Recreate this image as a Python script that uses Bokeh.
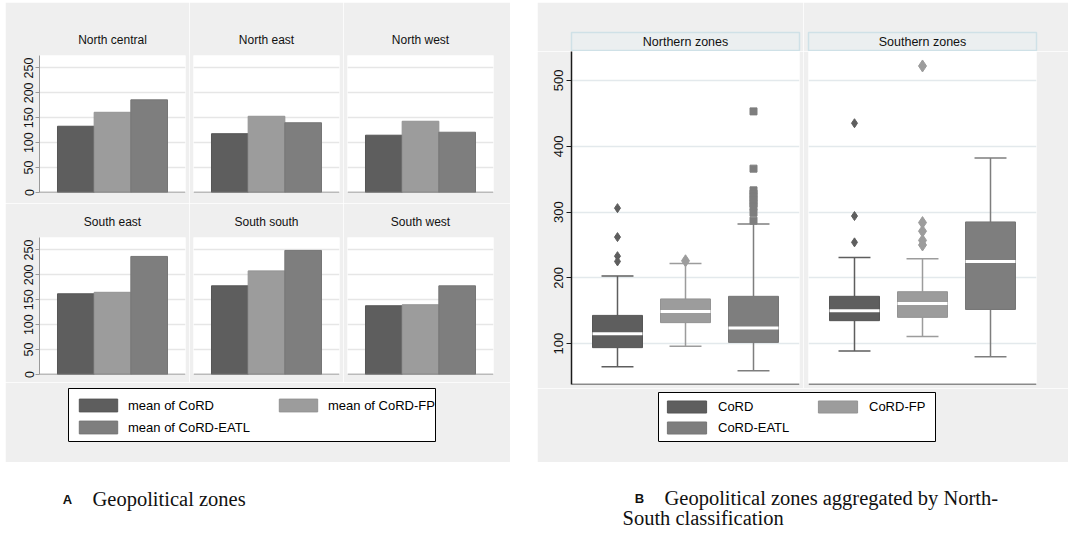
from bokeh.plotting import figure
from bokeh.models import (Range1d, FactorRange, FixedTicker, Legend, LegendItem,
                          ColumnDataSource, Grid, Spacer, Span)
from bokeh.layouts import row, column
from bokeh.embed import file_html
from bokeh.resources import INLINE
from bokeh.core.properties import value

# ---------------- data ----------------
series = ["CoRD", "CoRD-FP", "CoRD-EATL"]
legend_left = ["mean of CoRD", "mean of CoRD-FP", "mean of CoRD-EATL"]

zones = ["North central", "North east", "North west",
         "South east", "South south", "South west"]
mean_cord = [133, 118, 115, 162, 178, 138]
mean_fp = [161, 153, 143, 165, 208, 140]
mean_eatl = [186, 140, 121, 237, 249, 178]
bar_ticks = [0, 50, 100, 150, 200, 250]

groups = ["Northern zones", "Southern zones"]
cord_lo = [65, 89]
cord_q1 = [94, 135]
cord_med = [115, 150]
cord_q3 = [143, 172]
cord_hi = [203, 231]
fp_lo = [96, 111]
fp_q1 = [132, 140]
fp_med = [149, 161]
fp_q3 = [168, 179]
fp_hi = [222, 229]
eatl_lo = [59, 80]
eatl_q1 = [102, 152]
eatl_med = [124, 225]
eatl_q3 = [172, 285]
eatl_hi = [282, 382]
cord_out = [[306, 262, 233, 225], [435, 294, 254]]
fp_out = [[226], [522, 284, 271, 257, 250]]
eatl_out = [[453, 366, 333, 328, 323, 318, 313, 308, 299, 287], []]
box_ticks = [100, 200, 300, 400, 500]

# ---------------- style ----------------
BG = "#efefef"
colors = ["#5e5e5e", "#9c9c9c", "#7e7e7e"]
edges = ["#555555", "#939393", "#767676"]
FONT = "Liberation Sans"


def strip_grids(p):
    p.center = [c for c in p.center if not isinstance(c, Grid)]


def base(w, h, bl, br, bt, bb, xr, yr, yloc=None, title=None):
    kw = dict(width=w, height=h, x_range=xr, y_range=yr,
              output_backend="svg", toolbar_location=None,
              x_axis_location=None, y_axis_location=yloc,
              min_border_left=bl, min_border_right=br,
              min_border_top=bt, min_border_bottom=bb,
              border_fill_color=BG, background_fill_color="white",
              outline_line_color=None)
    if title is not None:
        kw["title"] = title
    p = figure(**kw)
    strip_grids(p)
    return p


# ---------------- left panel: bar facets ----------------
col_specs = [(184, 34, 4), (154, 4, 4), (167, 4, 17)]
row_specs = [(201, 53, 11), (179, 34, 8)]
left_rows = []
for r in range(2):
    figs = []
    for c in range(3):
        i = r * 3 + c
        w, bl, br = col_specs[c]
        h, bt, bb = row_specs[r]
        p = base(w, h, bl, br, bt, bb,
                 FactorRange(factors=series, range_padding=0.327),
                 Range1d(0, 275), yloc="left" if c == 0 else None, title=zones[i])
        p.title.align = "center"
        p.title.text_font = FONT
        p.title.text_font_style = "normal"
        p.title.text_font_size = "12px"
        p.title.text_color = "#111111"
        p.title.standoff = 18
        p.add_layout(Grid(dimension=1, ticker=FixedTicker(ticks=bar_ticks),
                          grid_line_color="#e6e6e6", grid_line_width=1.5))
        src = ColumnDataSource(dict(series=series,
                                    mean=[mean_cord[i], mean_fp[i], mean_eatl[i]],
                                    color=colors, edge=edges))
        p.vbar(x="series", top="mean", width=1.0, source=src,
               fill_color="color", line_color="edge", line_width=1)
        p.add_layout(Span(location=0, dimension="width",
                          line_color="#7a7a7a", line_width=1.5))
        if c == 0:
            ya = p.yaxis[0]
            ya.ticker = FixedTicker(ticks=bar_ticks)
            ya.major_label_orientation = "vertical"
            ya.major_label_text_font = FONT
            ya.major_label_text_font_size = "12.5px"
            ya.major_label_text_color = "#111111"
            ya.major_label_standoff = 2
            ya.axis_line_color = "#9a9a9a"
            ya.major_tick_line_color = "#9a9a9a"
            ya.major_tick_out = 4
            ya.major_tick_in = 0
            ya.minor_tick_line_color = None
        figs.append(p)
    left_rows.append(row(*figs, spacing=0))


def legend_fig(w, h, bl, br, bt, bb, labels, groups_idx, locs, gw, gh, fs, standoff, spacing):
    p = figure(width=w, height=h, x_range=Range1d(0, 1), y_range=Range1d(0, 1),
               x_axis_location=None, y_axis_location=None,
               min_border_left=bl, min_border_right=br,
               min_border_top=bt, min_border_bottom=bb,
               border_fill_color=BG, background_fill_color="white",
               outline_line_color="black", outline_line_width=1,
               output_backend="svg", toolbar_location=None)
    strip_grids(p)
    # legend-only renderers, kept outside the visible range
    rends = [p.vbar(x=[-5], bottom=[-5], top=[-4], width=0.1,
                    fill_color=colors[k], line_color=edges[k])
             for k in range(3)]
    for idx, loc in zip(groups_idx, locs):
        leg = Legend(items=[LegendItem(label=labels[k], renderers=[rends[k]]) for k in idx],
                     location=loc, orientation="vertical",
                     glyph_width=gw, glyph_height=gh, label_height=gh,
                     label_standoff=standoff, spacing=spacing, padding=0, margin=0,
                     border_line_color=None, background_fill_alpha=0,
                     label_text_font=FONT, label_text_font_size=f"{fs}px",
                     label_text_color="black")
        p.add_layout(leg)
    return p


left_leg = legend_fig(505, 80, 63, 75, 6, 21, legend_left,
                      [[0, 2], [1]], [(6, 6), (206, 28)], 48, 16, 13, 6, 6)
left_panel = column(left_rows[0], left_rows[1], left_leg, spacing=0)

# ---------------- right panel: box facets ----------------
hspec = [(266, 34, 4), (265, 5, 32)]
strips = []
boxes = []
for g in range(2):
    w, bl, br = hspec[g]
    s = figure(width=w, height=49, x_range=Range1d(0, 1), y_range=Range1d(0, 1),
               x_axis_location=None, y_axis_location=None,
               min_border_left=bl, min_border_right=br, min_border_top=30,
               min_border_bottom=0, border_fill_color=BG,
               background_fill_color="#ebeff0", outline_line_color="#cfe1e7",
               outline_line_width=1.5, output_backend="svg", toolbar_location=None)
    strip_grids(s)
    s.text(x=[0.5], y=[0.5], text=[groups[g]], text_align="center",
           text_baseline="middle", text_font=value(FONT),
           text_font_size="12.5px", text_color="#111111")
    strips.append(s)

    p = base(w, 337, bl, br, 0, 4,
             FactorRange(factors=series, range_padding=0.1176),
             Range1d(38, 544), yloc="left" if g == 0 else None)
    p.add_layout(Grid(dimension=1, ticker=FixedTicker(ticks=box_ticks),
                      grid_line_color="#e3e9ec", grid_line_width=1.5))
    src = ColumnDataSource(dict(
        series=series,
        lo=[cord_lo[g], fp_lo[g], eatl_lo[g]],
        q1=[cord_q1[g], fp_q1[g], eatl_q1[g]],
        med=[cord_med[g], fp_med[g], eatl_med[g]],
        q3=[cord_q3[g], fp_q3[g], eatl_q3[g]],
        hi=[cord_hi[g], fp_hi[g], eatl_hi[g]],
        color=colors, edge=edges))
    p.segment(x0="series", y0="q3", x1="series", y1="hi", source=src,
              line_color="color", line_width=1.5)
    p.segment(x0="series", y0="lo", x1="series", y1="q1", source=src,
              line_color="color", line_width=1.5)
    p.rect(x="series", y="hi", width=0.47, height=1.5, height_units="screen",
           source=src, fill_color="color", line_color=None)
    p.rect(x="series", y="lo", width=0.47, height=1.5, height_units="screen",
           source=src, fill_color="color", line_color=None)
    p.vbar(x="series", bottom="q1", top="q3", width=0.735, source=src,
           fill_color="color", line_color="edge", line_width=1)
    p.rect(x="series", y="med", width=0.735, height=3, height_units="screen",
           source=src, fill_color="white", line_color=None)
    ox, oy, oc, om, osz = [], [], [], [], []
    for k, outs in enumerate([cord_out[g], fp_out[g], eatl_out[g]]):
        for v in outs:
            ox.append(series[k])
            oy.append(v)
            oc.append(colors[k])
            om.append(["diamond", "diamond", "square"][k])
            osz.append([9, 12, 7][k])
    osrc = ColumnDataSource(dict(x=ox, y=oy, color=oc, marker=om, size=osz))
    p.scatter(x="x", y="y", marker="marker", size="size", source=osrc,
              fill_color="color", line_color="color")
    p.add_layout(Span(location=38, dimension="width",
                      line_color="#1a1a1a", line_width=1.5))
    if g == 0:
        ya = p.yaxis[0]
        ya.ticker = FixedTicker(ticks=box_ticks)
        ya.major_label_orientation = "vertical"
        ya.major_label_text_font = FONT
        ya.major_label_text_font_size = "13px"
        ya.major_label_text_color = "#111111"
        ya.major_label_standoff = 3
        ya.axis_line_color = "#1a1a1a"
        ya.axis_line_width = 1.5
        ya.major_tick_line_color = "#1a1a1a"
        ya.major_tick_out = 5
        ya.major_tick_in = 0
        ya.minor_tick_line_color = None
    boxes.append(p)

right_leg = legend_fig(531, 74, 121, 133, 4, 21, series,
                       [[0, 2], [1]], [(4, 6), (155, 27)], 49, 15, 13, 7, 6)
right_panel = column(row(*strips, spacing=0), row(*boxes, spacing=0), right_leg, spacing=0)

# ---------------- captions ----------------
cap = figure(width=1068, height=69, x_range=Range1d(0, 1068), y_range=Range1d(531, 462),
             x_axis_location=None, y_axis_location=None,
             min_border_left=0, min_border_right=0, min_border_top=0, min_border_bottom=0,
             border_fill_color="white", background_fill_color="white",
             outline_line_color=None, output_backend="svg", toolbar_location=None)
strip_grids(cap)
cap.text(x=[67, 639], y=[499, 498], text=["A", "B"], text_align="center",
         text_baseline="middle", text_font=value(FONT), text_font_style="bold",
         text_font_size="13px", text_color="#111111")
cap.text(x=[92, 664, 622], y=[498, 497, 517],
         text=["Geopolitical zones", "Geopolitical zones aggregated by North-",
               "South classification"],
         text_align="left", text_baseline="middle",
         text_font=value("Liberation Serif"), text_font_size="20.5px",
         text_color="#111111")

top = row(Spacer(width=5, height=460), left_panel, Spacer(width=27, height=460),
          right_panel, spacing=0)
layout = column(Spacer(width=1068, height=2), top, cap, spacing=0)

open("out.html", "w").write(file_html(layout, INLINE, "chart"))
